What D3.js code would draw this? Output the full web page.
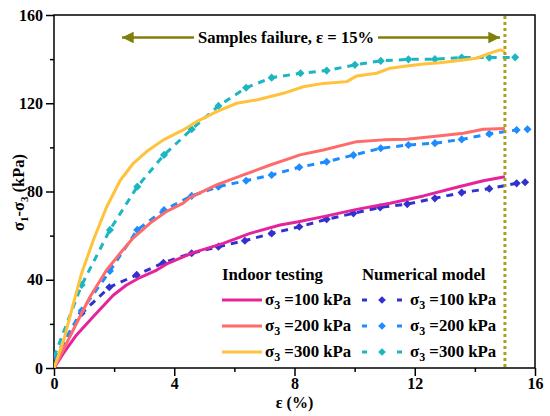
<!DOCTYPE html>
<html><head><meta charset="utf-8">
<script src="https://cdn.jsdelivr.net/npm/d3@7"></script>
<style>
html,body{margin:0;padding:0;background:#fff;}
svg{display:block;}
</style></head>
<body>
<svg id="chart" width="550" height="416" font-family="Liberation Serif" font-weight="bold"></svg>
<script>
// ---- data ----
const xTicks = [0, 4, 8, 12, 16];
const xMinorTicks = [2, 6, 10, 14];
const yTicks = [0, 40, 80, 120, 160];
const yMinorTicks = [20, 60, 100, 140];
const pressures = ["100", "200", "300"];

const indoor100 = [[0,0],[0.31,6.6],[0.75,15],[1.31,23.3],[1.97,33],[2.4,37.5],[2.86,41],[3.42,44.4],[3.75,47.2],[4.63,52.3],[5.63,56.5],[6.52,61],[7.52,64.8],[8.13,66.3],[8.96,68.6],[10.07,71.9],[11.18,74.7],[12.29,78],[13.4,81.9],[14.28,84.9],[15,86.7]];
const indoor200 = [[0,0],[0.31,8.2],[0.75,20.3],[1.2,32.3],[1.75,44.4],[2.2,52],[2.64,59],[3.19,65.6],[3.75,71],[4.3,74.7],[4.52,77.2],[5.41,83],[6.3,87.5],[7.19,92],[7.85,95],[8.18,96.6],[8.96,98.8],[10.07,102.6],[10.95,103.4],[11.73,103.7],[12.62,104.9],[13.62,106.4],[14.28,108.2],[15,108.6]];
const indoor300 = [[0,0],[0.31,12],[0.64,29],[0.92,43],[1.31,58],[1.75,73],[2.2,85],[2.64,92.8],[3.08,98.1],[3.64,103.4],[4.3,107.9],[4.75,111.7],[5.41,116.2],[6.08,120],[6.74,121.5],[7.63,124.5],[8.29,127.5],[8.96,129],[9.74,129.8],[10.07,132.4],[10.73,133.6],[11.18,135.9],[11.73,136.9],[12.29,137.8],[12.84,138.4],[13.4,139.3],[14.06,140.4],[14.5,142.7],[14.84,144.2],[15,143.4]];

const numerical100 = [[0,4],[0.92,24.8],[1.84,36.6],[2.75,42.2],[3.64,47.7],[4.58,52],[5.47,55],[6.35,57.7],[7.24,61],[8.16,64],[9.07,67.4],[9.96,70.1],[10.85,72.8],[11.75,74.3],[12.67,76.9],[13.56,79.5],[14.48,81.3],[15.39,83.7],[15.67,84.2]];
const numerical200 = [[0,4],[0.92,26],[1.86,44],[2.77,62.6],[3.66,71.6],[4.58,78],[5.47,82.2],[6.39,84.9],[7.24,87.5],[8.16,91],[9.07,93.5],[9.96,96.5],[10.87,99.6],[11.79,101.1],[12.67,101.9],[13.56,103.6],[14.48,106.1],[15.39,107.9],[15.75,108.2]];
const numerical300 = [[0,5],[0.92,37.6],[1.86,62.6],[2.77,82.2],[3.66,96.6],[4.58,108.2],[5.47,118.8],[6.39,127],[7.24,131.6],[8.2,133.6],[9.07,134.8],[10.01,137.4],[10.87,139.2],[11.79,139.9],[12.67,140],[13.56,140.7],[14.48,140.7],[15.34,140.8]];

const failureStrain = 15;

const indoorColors = ["#E5249C", "#FF6B6B", "#FFC23A"];
const numColors = ["#3131CF", "#1E8BFF", "#1BB6C2"];
const olive = "#7F7F0A";
const dotOlive = "#A6A21E";
const FONT = "Liberation Serif";

// ---- chart ----
const svg = d3.select("#chart");
const L = 54, R = 535, T = 15, B = 368;
const x = d3.scaleLinear().domain([0, 16]).range([L, R]);
const y = d3.scaleLinear().domain([0, 160]).range([B, T]);

// axes
svg.append("g").attr("transform", `translate(0,${B})`)
  .call(d3.axisBottom(x).tickValues(xTicks).tickSize(8).tickPadding(2).tickFormat(d3.format("d")));
svg.append("g").attr("transform", `translate(0,${B})`)
  .call(d3.axisBottom(x).tickValues(xMinorTicks).tickSize(4).tickFormat(""));
svg.append("g").attr("transform", `translate(${L},0)`)
  .call(d3.axisLeft(y).tickValues(yTicks).tickSize(8).tickPadding(3).tickFormat(d3.format("d")));
svg.append("g").attr("transform", `translate(${L},0)`)
  .call(d3.axisLeft(y).tickValues(yMinorTicks).tickSize(4).tickFormat(""));
svg.selectAll(".domain").remove();
svg.selectAll("g").attr("font-family", FONT).attr("font-weight", "bold");
svg.selectAll(".tick line").attr("stroke", "#000").attr("stroke-width", 1.5);
svg.selectAll(".tick text").attr("font-size", 16).attr("fill", "#000");

// frame
svg.append("rect").attr("x", L).attr("y", T).attr("width", R - L).attr("height", B - T)
  .attr("fill", "none").attr("stroke", "#000").attr("stroke-width", 1.5);

// axis titles
svg.append("text").attr("x", (L + R) / 2).attr("y", 408).attr("text-anchor", "middle")
  .attr("font-family", FONT).attr("font-weight", "bold").attr("font-size", 16).text("ε (%)");
const yl = svg.append("text").attr("transform", `translate(24,${(T + B) / 2 + 1}) rotate(-90)`)
  .attr("text-anchor", "middle").attr("font-family", FONT).attr("font-weight", "bold").attr("font-size", 16.5);
yl.append("tspan").text("σ");
yl.append("tspan").attr("font-size", 11).attr("dy", 4).text("1");
yl.append("tspan").attr("dy", -4).text("-σ");
yl.append("tspan").attr("font-size", 11).attr("dy", 4).text("3");
yl.append("tspan").attr("dy", -4).text(" (kPa)");

// clip
svg.append("clipPath").attr("id", "clip").append("rect")
  .attr("x", L).attr("y", T).attr("width", R - L).attr("height", B - T);
const plot = svg.append("g").attr("clip-path", "url(#clip)");

const line = d3.line().x(d => x(d[0])).y(d => y(d[1]));
const indoorSeries = [indoor100, indoor200, indoor300];
const numSeries = [numerical100, numerical200, numerical300];
const diamond = d3.symbol(d3.symbolDiamond2, 42);

// numerical (dashed + diamonds)
numSeries.forEach((s, i) => {
  plot.append("path").datum(s).attr("d", line).attr("fill", "none")
    .attr("stroke", numColors[i]).attr("stroke-width", 3).attr("stroke-dasharray", "7,6");
  plot.selectAll(null).data(s.slice(1)).join("path")
    .attr("transform", d => `translate(${x(d[0])},${y(d[1])})`)
    .attr("d", diamond).attr("fill", numColors[i]);
});
// indoor (solid)
indoorSeries.forEach((s, i) => {
  plot.append("path").datum(s).attr("d", line).attr("fill", "none")
    .attr("stroke", indoorColors[i]).attr("stroke-width", 3).attr("stroke-linejoin", "round");
});

// failure line
svg.append("line").attr("x1", x(failureStrain)).attr("x2", x(failureStrain))
  .attr("y1", T + 1).attr("y2", B).attr("stroke", dotOlive).attr("stroke-width", 3)
  .attr("stroke-dasharray", "3,3");

// arrow annotation
const ay = 37.5;
svg.append("defs").html(`<marker id="ah" viewBox="0 0 10 10" refX="10" refY="5" markerWidth="7" markerHeight="4.5" markerUnits="strokeWidth" orient="auto-start-reverse"><path d="M0,0L10,5L0,10z" fill="${olive}"/></marker>`);
svg.append("line").attr("x1", 194).attr("x2", 122).attr("y1", ay).attr("y2", ay)
  .attr("stroke", olive).attr("stroke-width", 2.6).attr("marker-end", "url(#ah)");
svg.append("line").attr("x1", 378).attr("x2", 500).attr("y1", ay).attr("y2", ay)
  .attr("stroke", olive).attr("stroke-width", 2.6).attr("marker-end", "url(#ah)");
svg.append("text").attr("x", 286).attr("y", 43).attr("text-anchor", "middle")
  .attr("font-family", FONT).attr("font-weight", "bold")
  .attr("font-size", 16.6).text("Samples failure, ε = 15%");

// legend
const LFS = 16.8;
const lg = svg.append("g").attr("font-family", FONT).attr("font-weight", "bold");
lg.append("text").attr("x", 222).attr("y", 280).attr("font-size", LFS).text("Indoor testing");
lg.append("text").attr("x", 362).attr("y", 280).attr("font-size", LFS).text("Numerical model");
const rowY = [300, 326, 352];
function sigmaLabel(xp, yp, p) {
  const t = lg.append("text").attr("x", xp).attr("y", yp + 5).attr("font-size", LFS);
  t.append("tspan").text("σ");
  t.append("tspan").attr("font-size", 12).attr("dy", 4).text("3");
  t.append("tspan").attr("dy", -4).text(" =" + p + " kPa");
}
pressures.forEach((p, i) => {
  const yy = rowY[i];
  lg.append("line").attr("x1", 222).attr("x2", 262).attr("y1", yy).attr("y2", yy)
    .attr("stroke", indoorColors[i]).attr("stroke-width", 3);
  sigmaLabel(265, yy, p);
  lg.append("line").attr("x1", 362).attr("x2", 402).attr("y1", yy).attr("y2", yy)
    .attr("stroke", numColors[i]).attr("stroke-width", 3).attr("stroke-dasharray", "5,30");
  lg.append("path").attr("transform", `translate(382,${yy})`)
    .attr("d", d3.symbol(d3.symbolDiamond2, 38)).attr("fill", numColors[i]);
  sigmaLabel(410, yy, p);
});
</script>
</body></html>
